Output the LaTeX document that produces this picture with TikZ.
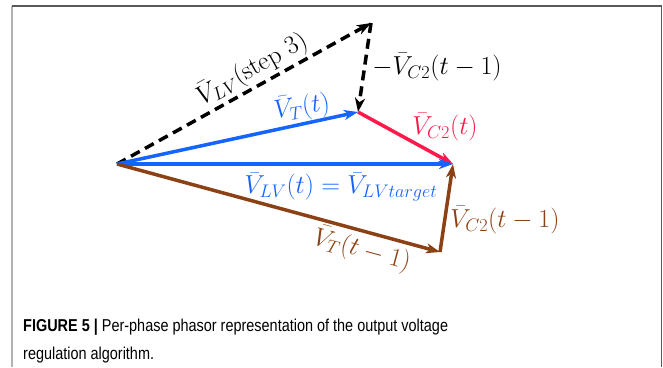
\RequirePackage{fix-cm}
\documentclass[tikz,border=0pt]{standalone}
\usepackage{amsmath}
\usepackage{fontspec}
\usepackage{tikz}
\usetikzlibrary{arrows.meta,positioning,calc}

\newfontfamily\capfont[FakeStretch=0.84]{Liberation Sans}
\definecolor{phblue}{RGB}{20,100,255}
\definecolor{phred}{RGB}{255,25,75}
\definecolor{phbrown}{RGB}{140,65,20}

\begin{document}
\begin{tikzpicture}[x=1pt, y=-1pt, >={Stealth[length=14pt,width=10pt,inset=4pt]},
  vec/.style={->, line width=3.5pt},
  lbl/.style={inner sep=0pt, font=\fontsize{26}{31}\selectfont},
  capt/.style={inner sep=0pt, font=\capfont\fontsize{17.2}{28}\selectfont}]
  \useasboundingbox (0,0) rectangle (663,367);

  % frame
  \draw[black!30, line width=2pt] (12,6) -- (12,367);
  \draw[black!65, line width=1.5pt] (12,6) -- (661.5,6) -- (661.5,367);

  \coordinate (o) at (117,164);
  \coordinate (s3) at (371,23);
  \coordinate (vt) at (358,112);
  \coordinate (vlv) at (453,164);
  \coordinate (vtold) at (440,252);

  \draw[vec, dash pattern=on 10pt off 6pt] (o) -- (s3);
  \draw[vec, dash pattern=on 10pt off 6pt] (s3) -- (vt);
  \draw[vec, phblue] (o) -- (vt);
  \draw[vec, phred] (vt) -- (vlv);
  \draw[vec, phblue] (o) -- (vlv);
  \draw[vec, phbrown] (o) -- (vtold);
  \draw[vec, phbrown] (vtold) -- (vlv);

  \node[lbl, rotate=29] (lstep) at (252,69) {$\bar{V}_{LV}(\text{step 3})$};
  \node[lbl] (lminus) at (437,67) {$-\bar{V}_{C2}(t-1)$};
  \node[lbl, phblue, rotate=9] (lvt) at (302,107) {$\bar{V}_{T}(t)$};
  \node[lbl, phred] (lvc) at (445,127) {$\bar{V}_{C2}(t)$};
  \node[lbl, phblue] (lvlv) at (341,187) {$\bar{V}_{LV}(t)=\bar{V}_{LV target}$};
  \node[lbl, phbrown] (lvcold) at (505,220) {$\bar{V}_{C2}(t-1)$};
  \node[lbl, phbrown, rotate=-15] (lvtold) at (362,250) {$\bar{V}_{T}(t-1)$};

  \node[capt, anchor=base west] (cap1) at (23,331)
    {\textbf{FIGURE 5 |} Per-phase phasor representation of the output voltage};
  \node[capt, anchor=base west] (cap2) at ([yshift=-28pt]cap1.base west)
    {regulation algorithm.};
\end{tikzpicture}
\end{document}
